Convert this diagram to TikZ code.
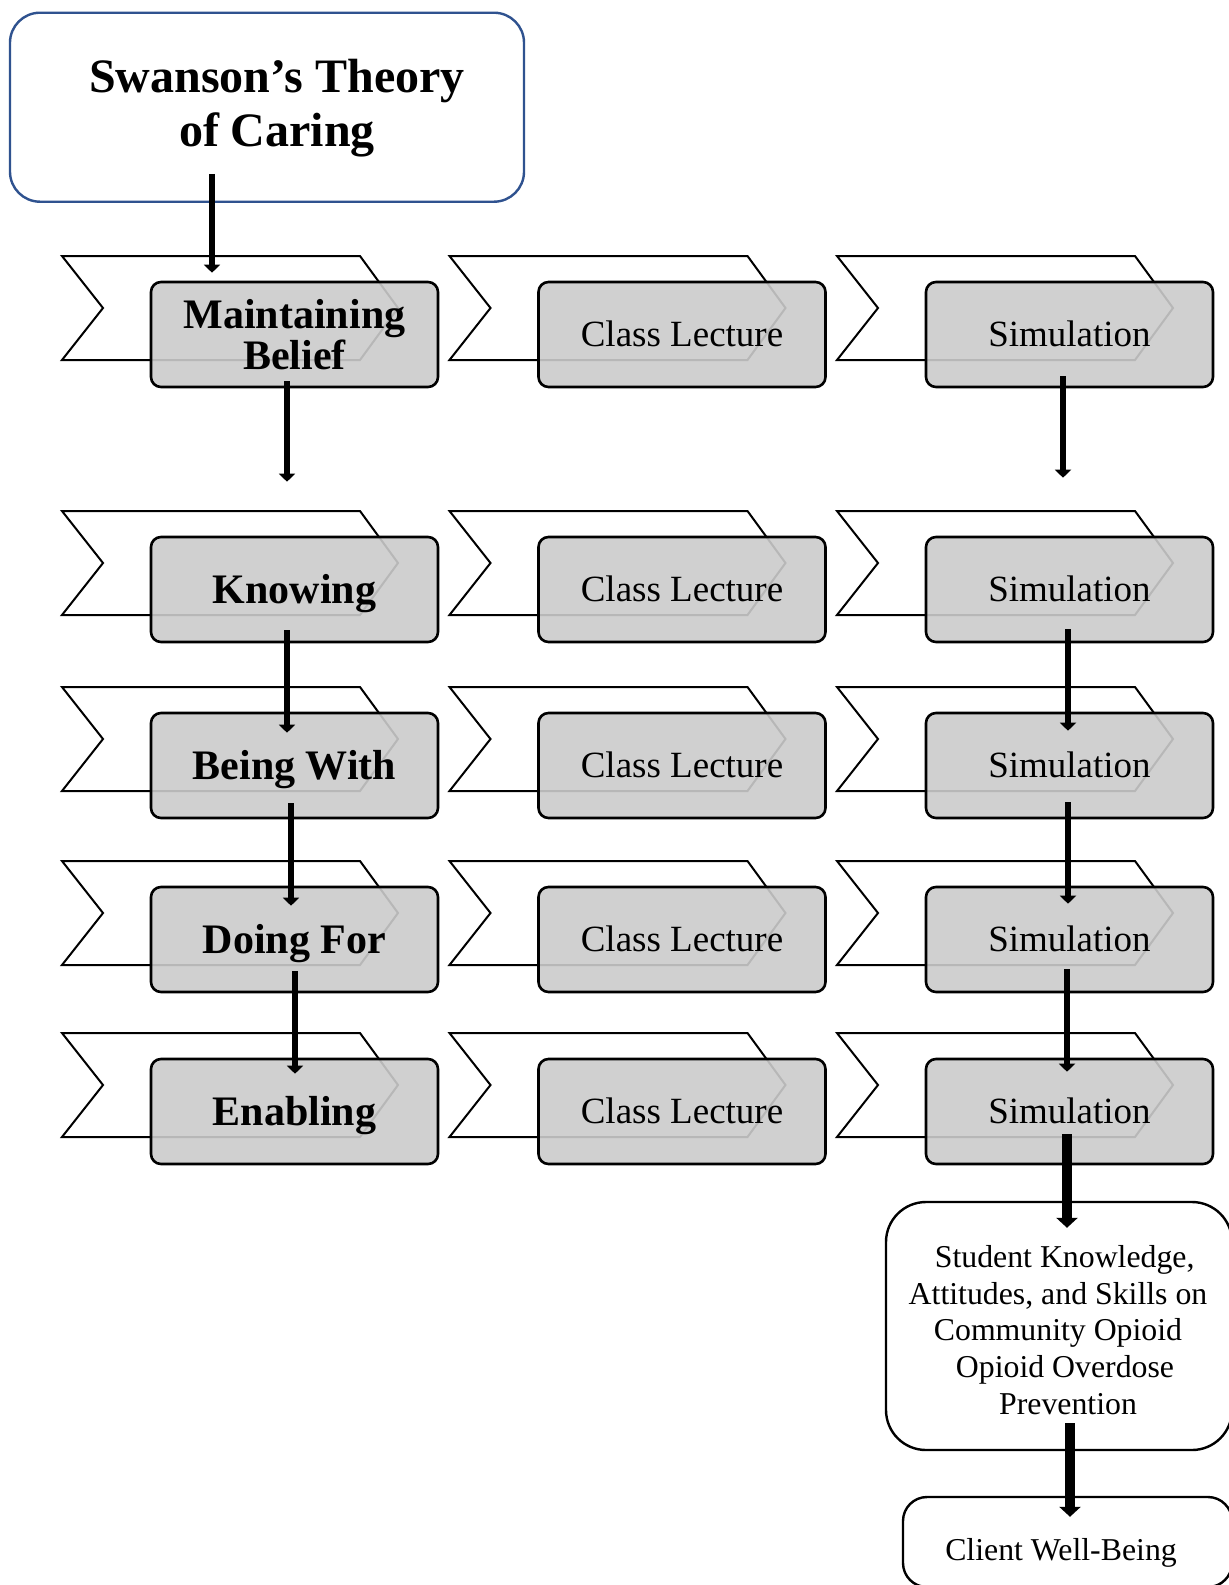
\documentclass[tikz,border=0pt]{standalone}
\usepackage{fontspec}
\setmainfont{Liberation Serif}
\usetikzlibrary{arrows.meta,calc}
\definecolor{boxgray}{RGB}{203,203,203}
\definecolor{titleblue}{RGB}{47,82,143}
\begin{document}
\begin{tikzpicture}[x=0.5pt,y=-0.5pt,
  chevline/.style={draw=black,line width=1pt,line join=miter},
  graybox/.style={draw=black,line width=1.3pt,fill=boxgray,fill opacity=0.9,text opacity=1,
    rounded corners=5pt,minimum width=143.5pt,minimum height=52.5pt,inner sep=0pt,align=center},
  boldlbl/.style={font=\fontsize{21}{19.3}\selectfont\bfseries},
  boldone/.style={boldlbl,text height=14.2pt,text depth=0pt},
  plainone/.style={font=\fontsize{18.5}{20}\selectfont,text height=12.25pt,text depth=0pt},
  titlebox/.style={draw=titleblue,line width=1.2pt,rounded corners=15pt,
    minimum width=257pt,minimum height=94.5pt,inner sep=0pt},
  titletext/.style={font=\fontsize{24}{27}\selectfont\bfseries,align=center,inner sep=0pt},
  outbox/.style={draw=black,line width=1.2pt,inner sep=0pt},
  smalltext/.style={font=\fontsize{15.9}{18.35}\selectfont,align=center,inner sep=0pt},
  arr/.style={line width=3.3pt,-{Triangle[width=8pt,length=4pt]}},
  thickarr/.style={line width=5pt,-{Triangle[width=10.5pt,length=5pt]}}
]
\useasboundingbox (0,0) rectangle (1228,1585);
\fill[white] (0,0) rectangle (1228,1585);

% chevrons
\foreach \yy in {256,511,687,861,1033}{
  \foreach \xx in {62,449.5,837}{
    \draw[chevline] (\xx,\yy) -- ++(298,0) -- ++(38,52) -- ++(-38,52) -- ++(-298,0) -- ++(41,-52) -- cycle;
  }
}

% title
\node[titlebox] (sw) at (267,107.2) {};
\node[titletext] (swt) at (277,108.5) {Swanson’s Theory\\of Caring};

% gray boxes
\node[graybox,boldlbl] (b11) at (294.5,334.5) {Maintaining\\Belief};
\node[graybox,plainone] (b12) at (682,334.5) {Class Lecture};
\node[graybox,plainone] (b13) at (1069.5,334.5) {Simulation};

\node[graybox,boldone] (b21) at (294.5,589.5) {Knowing};
\node[graybox,plainone] (b22) at (682,589.5) {Class Lecture};
\node[graybox,plainone] (b23) at (1069.5,589.5) {Simulation};

\node[graybox,boldone] (b31) at (294.5,765.5) {Being With};
\node[graybox,plainone] (b32) at (682,765.5) {Class Lecture};
\node[graybox,plainone] (b33) at (1069.5,765.5) {Simulation};

\node[graybox,boldone] (b41) at (294.5,939.5) {Doing For};
\node[graybox,plainone] (b42) at (682,939.5) {Class Lecture};
\node[graybox,plainone] (b43) at (1069.5,939.5) {Simulation};

\node[graybox,boldone] (b51) at (294.5,1111.5) {Enabling};
\node[graybox,plainone] (b52) at (682,1111.5) {Class Lecture};
\node[graybox,plainone] (b53) at (1069.5,1111.5) {Simulation};

% outcome boxes
\node[outbox,rounded corners=20pt,minimum width=173pt,minimum height=124pt] (stu) at (1059,1326) {};
\node[smalltext] (stut) at (1058,1330) {\hspace*{6.7pt}Student Knowledge,\\Attitudes, and Skills on\hspace*{4.7pt}\\Community Opioid\hspace*{1.2pt}\\\hspace*{7pt}Opioid Overdose\\\hspace*{10pt}Prevention};
\node[outbox,rounded corners=12pt,minimum width=164.5pt,minimum height=45pt] (cli) at (1067.5,1542) {};
\node[smalltext,anchor=base] (clit) at (1061,1560) {Client Well-Being};

% arrows
\draw[arr] ($(sw.south)+(-55,-29)$) -- ($(b11.north)+(-82.5,-8)$);
\draw[arr] ($(b11.south)+(-7.5,-7)$) -- ($(b21.north)+(-7.5,-54)$);
\draw[arr] ($(b13.south)+(-6.5,-12)$) -- ($(b23.north)+(-6.5,-58)$);
\draw[arr] ($(b21.south)+(-7.5,-13)$) -- ($(b31.north)+(-7.5,21)$);
\draw[arr] ($(b31.south)+(-3.5,-16)$) -- ($(b41.north)+(-3.5,20)$);
\draw[arr] ($(b41.south)+(0.5,-22)$) -- ($(b51.north)+(0.5,16)$);
\draw[arr] ($(b23.south)+(-1.5,-14)$) -- ($(b33.north)+(-1.5,19)$);
\draw[arr] ($(b33.south)+(-1.5,-17)$) -- ($(b43.north)+(-1.5,18)$);
\draw[arr] ($(b43.south)+(-2.5,-24)$) -- ($(b53.north)+(-2.5,14)$);
\draw[thickarr] ($(b53.south)+(-2.5,-31)$) -- ($(stu.north)+(8,27)$);
\draw[thickarr] ($(stu.south)+(11,-28)$) -- ($(cli.north)+(2.5,21)$);
\end{tikzpicture}
\end{document}
